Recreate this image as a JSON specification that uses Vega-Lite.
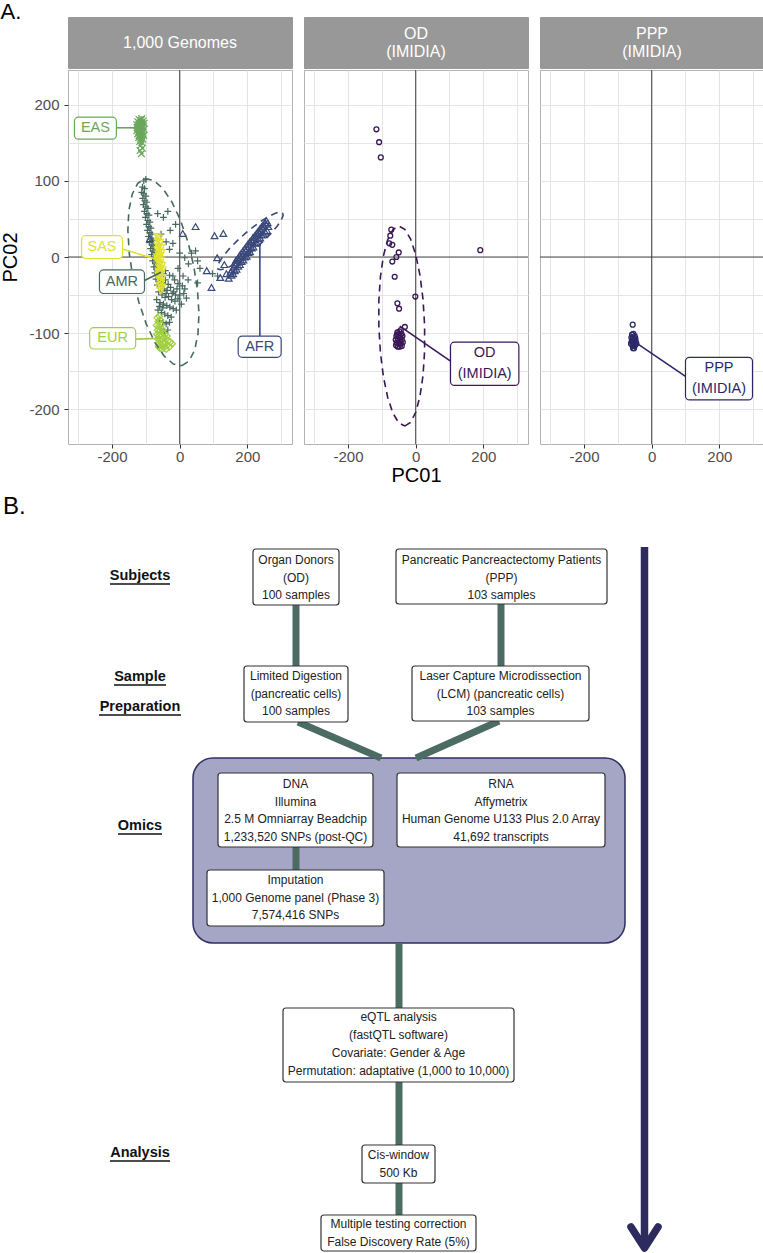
{
"$schema": "https://vega.github.io/schema/vega-lite/v6.json",
"background": "white",
"padding": {"left": 0, "top": 0, "right": 0, "bottom": 0},
"title": {"text": "A.", "anchor": "start", "frame": "bounds", "fontSize": 22, "fontWeight": "normal", "font": "Liberation Sans", "color": "#000000", "offset": -7},
"config": {
  "font": "Liberation Sans",
  "view": {"stroke": "#B3B3B3"},
  "axis": {"gridColor": "#E4E4E4", "gridWidth": 1, "domain": false, "tickColor": "#333333", "tickSize": 4, "tickWidth": 1, "labelColor": "#4D4D4D", "labelFontSize": 15, "labelFont": "Liberation Sans", "titleFont": "Liberation Sans", "titleFontSize": 20, "titleFontWeight": "normal", "titleColor": "#000000", "labelOverlap": false, "labelFlush": false}
},
"datasets": {
  "strips": [{"panel": "1000G", "label": "1,000 Genomes"}, {"panel": "OD", "label": "OD\n(IMIDIA)"}, {"panel": "PPP", "label": "PPP\n(IMIDIA)"}],
  "zero": [{"x": 0, "x2": 0, "y": -246, "y2": 246}, {"x": -330, "x2": 332, "y": 0, "y2": 0}],
  "points": [
    {"pop":"EAS","x":-120,"y":181},{"pop":"EAS","x":-114,"y":180},{"pop":"EAS","x":-108,"y":179},{"pop":"EAS","x":-124,"y":178},{"pop":"EAS","x":-117,"y":177},{"pop":"EAS","x":-111,"y":176},{"pop":"EAS","x":-105,"y":176},{"pop":"EAS","x":-127,"y":174},{"pop":"EAS","x":-121,"y":174},{"pop":"EAS","x":-114,"y":173},{"pop":"EAS","x":-108,"y":172},{"pop":"EAS","x":-124,"y":170},{"pop":"EAS","x":-118,"y":169},{"pop":"EAS","x":-111,"y":169},{"pop":"EAS","x":-105,"y":168},{"pop":"EAS","x":-127,"y":166},{"pop":"EAS","x":-121,"y":165},{"pop":"EAS","x":-115,"y":165},{"pop":"EAS","x":-109,"y":164},{"pop":"EAS","x":-124,"y":162},{"pop":"EAS","x":-118,"y":161},{"pop":"EAS","x":-112,"y":160},{"pop":"EAS","x":-106,"y":160},{"pop":"EAS","x":-121,"y":157},{"pop":"EAS","x":-115,"y":156},{"pop":"EAS","x":-109,"y":155},{"pop":"EAS","x":-118,"y":152},{"pop":"EAS","x":-112,"y":151},{"pop":"EAS","x":-115,"y":147},{"pop":"EAS","x":-110,"y":143},{"pop":"EAS","x":-117,"y":140},{"pop":"EAS","x":-113,"y":136},{"pop":"EAS","x":-120,"y":160},{"pop":"EAS","x":-112,"y":182},{"pop":"EAS","x":-126,"y":170},
    {"pop":"AMR","x":-106,"y":100},{"pop":"AMR","x":-110,"y":92},{"pop":"AMR","x":-104,"y":90},{"pop":"AMR","x":-112,"y":85},{"pop":"AMR","x":-106,"y":83},{"pop":"AMR","x":-100,"y":80},{"pop":"AMR","x":-109,"y":77},{"pop":"AMR","x":-103,"y":74},{"pop":"AMR","x":-97,"y":72},{"pop":"AMR","x":-107,"y":69},{"pop":"AMR","x":-100,"y":66},{"pop":"AMR","x":-94,"y":64},{"pop":"AMR","x":-104,"y":60},{"pop":"AMR","x":-97,"y":57},{"pop":"AMR","x":-91,"y":55},{"pop":"AMR","x":-101,"y":52},{"pop":"AMR","x":-94,"y":48},{"pop":"AMR","x":-88,"y":46},{"pop":"AMR","x":-98,"y":43},{"pop":"AMR","x":-91,"y":40},{"pop":"AMR","x":-85,"y":38},{"pop":"AMR","x":-95,"y":35},{"pop":"AMR","x":-88,"y":32},{"pop":"AMR","x":-82,"y":30},{"pop":"AMR","x":-92,"y":27},{"pop":"AMR","x":-85,"y":24},{"pop":"AMR","x":-79,"y":22},{"pop":"AMR","x":-89,"y":19},{"pop":"AMR","x":-82,"y":16},{"pop":"AMR","x":-76,"y":14},{"pop":"AMR","x":-86,"y":11},{"pop":"AMR","x":-79,"y":8},{"pop":"AMR","x":-73,"y":6},{"pop":"AMR","x":-83,"y":3},{"pop":"AMR","x":-76,"y":0},{"pop":"AMR","x":-70,"y":-2},{"pop":"AMR","x":-80,"y":-5},{"pop":"AMR","x":-72,"y":-8},{"pop":"AMR","x":-66,"y":-10},{"pop":"AMR","x":-76,"y":-13},{"pop":"AMR","x":-68,"y":-16},{"pop":"AMR","x":-61,"y":-18},{"pop":"AMR","x":-73,"y":-21},{"pop":"AMR","x":-64,"y":-24},{"pop":"AMR","x":-56,"y":-26},{"pop":"AMR","x":-48,"y":-22},{"pop":"AMR","x":-70,"y":-29},{"pop":"AMR","x":-60,"y":-32},{"pop":"AMR","x":-51,"y":-34},{"pop":"AMR","x":-42,"y":-30},{"pop":"AMR","x":-34,"y":-36},{"pop":"AMR","x":-66,"y":-37},{"pop":"AMR","x":-56,"y":-40},{"pop":"AMR","x":-46,"y":-42},{"pop":"AMR","x":-37,"y":-44},{"pop":"AMR","x":-27,"y":-40},{"pop":"AMR","x":-18,"y":-46},{"pop":"AMR","x":-8,"y":-42},{"pop":"AMR","x":0,"y":-50},{"pop":"AMR","x":12,"y":-48},{"pop":"AMR","x":20,"y":-54},{"pop":"AMR","x":-62,"y":-46},{"pop":"AMR","x":-52,"y":-50},{"pop":"AMR","x":-43,"y":-53},{"pop":"AMR","x":-33,"y":-52},{"pop":"AMR","x":-24,"y":-56},{"pop":"AMR","x":-14,"y":-58},{"pop":"AMR","x":-5,"y":-55},{"pop":"AMR","x":5,"y":-62},{"pop":"AMR","x":-68,"y":-56},{"pop":"AMR","x":-58,"y":-60},{"pop":"AMR","x":-48,"y":-62},{"pop":"AMR","x":-38,"y":-64},{"pop":"AMR","x":-29,"y":-66},{"pop":"AMR","x":-19,"y":-68},{"pop":"AMR","x":-10,"y":-70},{"pop":"AMR","x":-64,"y":-70},{"pop":"AMR","x":-54,"y":-73},{"pop":"AMR","x":-44,"y":-75},{"pop":"AMR","x":-35,"y":-77},{"pop":"AMR","x":-25,"y":-79},{"pop":"AMR","x":-60,"y":-84},{"pop":"AMR","x":-50,"y":-86},{"pop":"AMR","x":-40,"y":-88},{"pop":"AMR","x":-30,"y":-86},{"pop":"AMR","x":-55,"y":-95},{"pop":"AMR","x":-45,"y":-98},{"pop":"AMR","x":-35,"y":-96},
    {"pop":"AMR","x":-65,"y":57},{"pop":"AMR","x":-35,"y":60},{"pop":"AMR","x":-48,"y":52},{"pop":"AMR","x":-12,"y":43},{"pop":"AMR","x":-28,"y":35},{"pop":"AMR","x":-55,"y":30},{"pop":"AMR","x":-40,"y":20},{"pop":"AMR","x":-20,"y":18},{"pop":"AMR","x":47,"y":8},{"pop":"AMR","x":53,"y":-5},{"pop":"AMR","x":53,"y":-34},{"pop":"AMR","x":15,"y":-1},{"pop":"AMR","x":26,"y":-9},{"pop":"AMR","x":35,"y":5},{"pop":"AMR","x":-5,"y":-15},{"pop":"AMR","x":10,"y":-25},{"pop":"AMR","x":-20,"y":-25},{"pop":"AMR","x":25,"y":-30},{"pop":"AMR","x":97,"y":-22},{"pop":"AMR","x":112,"y":-25},{"pop":"AMR","x":-30,"y":10},{"pop":"AMR","x":0,"y":5},{"pop":"AMR","x":60,"y":-15},{"pop":"AMR","x":-42,"y":-18},{"pop":"AMR","x":-100,"y":102},{"pop":"AMR","x":-30,"y":-24},{"pop":"AMR","x":-15,"y":-30},{"pop":"AMR","x":-5,"y":-35},{"pop":"AMR","x":8,"y":-38},{"pop":"AMR","x":15,"y":-42},{"pop":"AMR","x":-22,"y":-48},{"pop":"AMR","x":-40,"y":-48},{"pop":"AMR","x":-12,"y":-50},{"pop":"AMR","x":-60,"y":-65},{"pop":"AMR","x":-50,"y":-67},
    {"pop":"SAS","x":-66,"y":27},{"pop":"SAS","x":-60,"y":25},{"pop":"SAS","x":-64,"y":21},{"pop":"SAS","x":-58,"y":19},{"pop":"SAS","x":-68,"y":17},{"pop":"SAS","x":-61,"y":14},{"pop":"SAS","x":-55,"y":12},{"pop":"SAS","x":-65,"y":10},{"pop":"SAS","x":-59,"y":8},{"pop":"SAS","x":-53,"y":6},{"pop":"SAS","x":-63,"y":4},{"pop":"SAS","x":-57,"y":2},{"pop":"SAS","x":-67,"y":0},{"pop":"SAS","x":-61,"y":-2},{"pop":"SAS","x":-55,"y":-4},{"pop":"SAS","x":-64,"y":-7},{"pop":"SAS","x":-58,"y":-9},{"pop":"SAS","x":-52,"y":-11},{"pop":"SAS","x":-62,"y":-13},{"pop":"SAS","x":-56,"y":-15},{"pop":"SAS","x":-50,"y":-17},{"pop":"SAS","x":-60,"y":-19},{"pop":"SAS","x":-54,"y":-21},{"pop":"SAS","x":-63,"y":-24},{"pop":"SAS","x":-57,"y":-26},{"pop":"SAS","x":-51,"y":-28},{"pop":"SAS","x":-60,"y":-30},{"pop":"SAS","x":-54,"y":-33},{"pop":"SAS","x":-58,"y":-37},{"pop":"SAS","x":-52,"y":-40},{"pop":"SAS","x":-56,"y":-44},{"pop":"SAS","x":-60,"y":-41},{"pop":"SAS","x":-62,"y":-20},{"pop":"SAS","x":-66,"y":-3},
    {"pop":"EUR","x":-66,"y":-80},{"pop":"EUR","x":-60,"y":-78},{"pop":"EUR","x":-63,"y":-85},{"pop":"EUR","x":-57,"y":-83},{"pop":"EUR","x":-68,"y":-90},{"pop":"EUR","x":-61,"y":-91},{"pop":"EUR","x":-55,"y":-89},{"pop":"EUR","x":-65,"y":-96},{"pop":"EUR","x":-58,"y":-97},{"pop":"EUR","x":-52,"y":-95},{"pop":"EUR","x":-67,"y":-102},{"pop":"EUR","x":-61,"y":-103},{"pop":"EUR","x":-55,"y":-102},{"pop":"EUR","x":-49,"y":-100},{"pop":"EUR","x":-64,"y":-108},{"pop":"EUR","x":-58,"y":-109},{"pop":"EUR","x":-52,"y":-108},{"pop":"EUR","x":-46,"y":-106},{"pop":"EUR","x":-40,"y":-108},{"pop":"EUR","x":-34,"y":-110},{"pop":"EUR","x":-28,"y":-112},{"pop":"EUR","x":-22,"y":-114},{"pop":"EUR","x":-61,"y":-114},{"pop":"EUR","x":-55,"y":-115},{"pop":"EUR","x":-49,"y":-114},{"pop":"EUR","x":-43,"y":-113},{"pop":"EUR","x":-37,"y":-116},{"pop":"EUR","x":-30,"y":-118},{"pop":"EUR","x":-58,"y":-120},{"pop":"EUR","x":-52,"y":-121},{"pop":"EUR","x":-46,"y":-119},{"pop":"EUR","x":-40,"y":-121},{"pop":"EUR","x":-62,"y":-118},{"pop":"EUR","x":-44,"y":-102},{"pop":"EUR","x":-38,"y":-104},
    {"pop":"AFR","x":9,"y":31},{"pop":"AFR","x":47,"y":40},{"pop":"AFR","x":103,"y":28},{"pop":"AFR","x":129,"y":31},{"pop":"AFR","x":111,"y":-1},{"pop":"AFR","x":94,"y":-40},{"pop":"AFR","x":120,"y":-27},{"pop":"AFR","x":138,"y":-22},{"pop":"AFR","x":-88,"y":24},{"pop":"AFR","x":132,"y":-10},{"pop":"AFR","x":145,"y":-28},{"pop":"AFR","x":80,"y":-18},
    {"pop":"AFR","x":150,"y":-20},{"pop":"AFR","x":155,"y":-17},{"pop":"AFR","x":160,"y":-13},{"pop":"AFR","x":165,"y":-10},{"pop":"AFR","x":170,"y":-7},{"pop":"AFR","x":175,"y":-4},{"pop":"AFR","x":180,"y":-1},{"pop":"AFR","x":185,"y":2},{"pop":"AFR","x":190,"y":5},{"pop":"AFR","x":195,"y":8},{"pop":"AFR","x":200,"y":11},{"pop":"AFR","x":205,"y":14},{"pop":"AFR","x":210,"y":17},{"pop":"AFR","x":215,"y":20},{"pop":"AFR","x":220,"y":23},{"pop":"AFR","x":225,"y":26},{"pop":"AFR","x":230,"y":29},{"pop":"AFR","x":235,"y":32},{"pop":"AFR","x":240,"y":35},{"pop":"AFR","x":245,"y":38},{"pop":"AFR","x":250,"y":40},{"pop":"AFR","x":255,"y":43},{"pop":"AFR","x":260,"y":45},
    {"pop":"AFR","x":158,"y":-22},{"pop":"AFR","x":168,"y":-16},{"pop":"AFR","x":178,"y":-10},{"pop":"AFR","x":188,"y":-4},{"pop":"AFR","x":198,"y":1},{"pop":"AFR","x":208,"y":7},{"pop":"AFR","x":218,"y":13},{"pop":"AFR","x":228,"y":19},{"pop":"AFR","x":238,"y":25},{"pop":"AFR","x":248,"y":30},{"pop":"AFR","x":258,"y":35},
    {"pop":"AFR","x":162,"y":-8},{"pop":"AFR","x":172,"y":-2},{"pop":"AFR","x":182,"y":5},{"pop":"AFR","x":192,"y":11},{"pop":"AFR","x":202,"y":17},{"pop":"AFR","x":212,"y":22},{"pop":"AFR","x":222,"y":28},{"pop":"AFR","x":232,"y":34},{"pop":"AFR","x":242,"y":40},{"pop":"AFR","x":252,"y":45},{"pop":"AFR","x":262,"y":40},{"pop":"AFR","x":256,"y":48},
    {"pop":"AFR","x":153,"y":-24},{"pop":"AFR","x":163,"y":-18},{"pop":"AFR","x":173,"y":-12},{"pop":"AFR","x":183,"y":-6},{"pop":"AFR","x":193,"y":0},{"pop":"AFR","x":203,"y":6},{"pop":"AFR","x":213,"y":12},{"pop":"AFR","x":223,"y":18},{"pop":"AFR","x":233,"y":24},{"pop":"AFR","x":243,"y":29},{"pop":"AFR","x":253,"y":33},{"pop":"AFR","x":167,"y":-4},{"pop":"AFR","x":177,"y":2},{"pop":"AFR","x":187,"y":8},{"pop":"AFR","x":197,"y":14},{"pop":"AFR","x":207,"y":20},{"pop":"AFR","x":217,"y":26},{"pop":"AFR","x":227,"y":31},{"pop":"AFR","x":237,"y":37},{"pop":"AFR","x":247,"y":42},
    {"pop":"OD","x":-116,"y":168},{"pop":"OD","x":-108,"y":151},{"pop":"OD","x":-103,"y":131},{"pop":"OD","x":-72,"y":36},{"pop":"OD","x":-78,"y":18},{"pop":"OD","x":-69,"y":16},{"pop":"OD","x":-50,"y":6},{"pop":"OD","x":-57,"y":0},{"pop":"OD","x":-69,"y":-6},{"pop":"OD","x":-62,"y":-26},{"pop":"OD","x":191,"y":9},{"pop":"OD","x":-1,"y":-52},{"pop":"OD","x":-54,"y":-61},{"pop":"OD","x":-49,"y":-68},{"pop":"OD","x":-32,"y":-92},{"pop":"OD","x":-75,"y":28},
    {"pop":"OD","x":-54,"y":-99},{"pop":"OD","x":-48,"y":-98},{"pop":"OD","x":-42,"y":-101},{"pop":"OD","x":-57,"y":-104},{"pop":"OD","x":-51,"y":-104},{"pop":"OD","x":-45,"y":-105},{"pop":"OD","x":-39,"y":-104},{"pop":"OD","x":-59,"y":-109},{"pop":"OD","x":-53,"y":-109},{"pop":"OD","x":-47,"y":-110},{"pop":"OD","x":-41,"y":-109},{"pop":"OD","x":-56,"y":-113},{"pop":"OD","x":-50,"y":-114},{"pop":"OD","x":-44,"y":-114},{"pop":"OD","x":-38,"y":-112},{"pop":"OD","x":-53,"y":-118},{"pop":"OD","x":-47,"y":-118},{"pop":"OD","x":-41,"y":-117},{"pop":"OD","x":-58,"y":-116},{"pop":"OD","x":-49,"y":-106},{"pop":"OD","x":-55,"y":-102},{"pop":"OD","x":-44,"y":-96},
    {"pop":"PPP","x":-56,"y":-89},{"pop":"PPP","x":-58,"y":-102},{"pop":"PPP","x":-54,"y":-101},{"pop":"PPP","x":-50,"y":-104},{"pop":"PPP","x":-60,"y":-106},{"pop":"PPP","x":-56,"y":-107},{"pop":"PPP","x":-52,"y":-108},{"pop":"PPP","x":-48,"y":-107},{"pop":"PPP","x":-59,"y":-111},{"pop":"PPP","x":-55,"y":-112},{"pop":"PPP","x":-51,"y":-112},{"pop":"PPP","x":-47,"y":-111},{"pop":"PPP","x":-57,"y":-116},{"pop":"PPP","x":-53,"y":-117},{"pop":"PPP","x":-49,"y":-116},{"pop":"PPP","x":-55,"y":-120},{"pop":"PPP","x":-61,"y":-114},{"pop":"PPP","x":-45,"y":-114},{"pop":"PPP","x":-52,"y":-120}
  ],
  "ellipses": [
    {"pop":"AMR","i":0,"x":6.6,"y":-143.0},{"pop":"AMR","i":1,"x":28.0,"y":-136.8},{"pop":"AMR","i":2,"x":44.2,"y":-122.6},{"pop":"AMR","i":3,"x":54.1,"y":-101.4},{"pop":"AMR","i":4,"x":57.1,"y":-74.7},{"pop":"AMR","i":5,"x":52.8,"y":-44.3},{"pop":"AMR","i":6,"x":41.8,"y":-12.1},{"pop":"AMR","i":7,"x":24.6,"y":19.5},{"pop":"AMR","i":8,"x":2.5,"y":48.3},{"pop":"AMR","i":9,"x":-23.1,"y":72.6},{"pop":"AMR","i":10,"x":-50.4,"y":90.5},{"pop":"AMR","i":11,"x":-77.4,"y":100.8},{"pop":"AMR","i":12,"x":-102.6,"y":103.0},{"pop":"AMR","i":13,"x":-124.0,"y":96.8},{"pop":"AMR","i":14,"x":-140.2,"y":82.6},{"pop":"AMR","i":15,"x":-150.1,"y":61.4},{"pop":"AMR","i":16,"x":-153.1,"y":34.7},{"pop":"AMR","i":17,"x":-148.8,"y":4.3},{"pop":"AMR","i":18,"x":-137.8,"y":-27.9},{"pop":"AMR","i":19,"x":-120.6,"y":-59.5},{"pop":"AMR","i":20,"x":-98.5,"y":-88.3},{"pop":"AMR","i":21,"x":-72.9,"y":-112.6},{"pop":"AMR","i":22,"x":-45.6,"y":-130.5},{"pop":"AMR","i":23,"x":-18.6,"y":-140.8},{"pop":"AMR","i":24,"x":6.6,"y":-143.0},
    {"pop":"AFR","i":0,"x":304.4,"y":58.0},{"pop":"AFR","i":1,"x":305.7,"y":54.4},{"pop":"AFR","i":2,"x":300.2,"y":48.6},{"pop":"AFR","i":3,"x":288.6,"y":40.8},{"pop":"AFR","i":4,"x":271.6,"y":31.8},{"pop":"AFR","i":5,"x":250.3,"y":22.0},{"pop":"AFR","i":6,"x":226.1,"y":12.1},{"pop":"AFR","i":7,"x":200.7,"y":2.8},{"pop":"AFR","i":8,"x":176.0,"y":-5.2},{"pop":"AFR","i":9,"x":153.4,"y":-11.4},{"pop":"AFR","i":10,"x":134.7,"y":-15.4},{"pop":"AFR","i":11,"x":120.9,"y":-16.8},{"pop":"AFR","i":12,"x":113.2,"y":-15.8},{"pop":"AFR","i":13,"x":111.9,"y":-12.2},{"pop":"AFR","i":14,"x":117.4,"y":-6.4},{"pop":"AFR","i":15,"x":129.0,"y":1.4},{"pop":"AFR","i":16,"x":146.0,"y":10.4},{"pop":"AFR","i":17,"x":167.3,"y":20.2},{"pop":"AFR","i":18,"x":191.5,"y":30.1},{"pop":"AFR","i":19,"x":216.9,"y":39.4},{"pop":"AFR","i":20,"x":241.6,"y":47.4},{"pop":"AFR","i":21,"x":264.2,"y":53.6},{"pop":"AFR","i":22,"x":282.9,"y":57.6},{"pop":"AFR","i":23,"x":292.5,"y":59.0},{"pop":"AFR","i":24,"x":304.4,"y":58.0},
    {"pop":"OD","i":0,"x":-32.4,"y":-222.4},{"pop":"OD","i":1,"x":-15.2,"y":-217.7},{"pop":"OD","i":2,"x":0.2,"y":-204.3},{"pop":"OD","i":3,"x":12.8,"y":-183.2},{"pop":"OD","i":4,"x":21.7,"y":-155.8},{"pop":"OD","i":5,"x":26.4,"y":-124.0},{"pop":"OD","i":6,"x":26.4,"y":-89.9},{"pop":"OD","i":7,"x":21.8,"y":-55.8},{"pop":"OD","i":8,"x":12.9,"y":-24.2},{"pop":"OD","i":9,"x":0.4,"y":2.8},{"pop":"OD","i":10,"x":-15.0,"y":23.7},{"pop":"OD","i":11,"x":-32.2,"y":36.5},{"pop":"OD","i":12,"x":-50.0,"y":40.8},{"pop":"OD","i":13,"x":-67.2,"y":36.1},{"pop":"OD","i":14,"x":-82.6,"y":22.8},{"pop":"OD","i":15,"x":-95.2,"y":1.6},{"pop":"OD","i":16,"x":-104.1,"y":-25.8},{"pop":"OD","i":17,"x":-108.8,"y":-57.6},{"pop":"OD","i":18,"x":-108.8,"y":-91.7},{"pop":"OD","i":19,"x":-104.2,"y":-125.8},{"pop":"OD","i":20,"x":-95.3,"y":-157.4},{"pop":"OD","i":21,"x":-82.8,"y":-184.4},{"pop":"OD","i":22,"x":-67.4,"y":-205.3},{"pop":"OD","i":23,"x":-50.2,"y":-218.1},{"pop":"OD","i":24,"x":-32.4,"y":-222.4}
  ],
  "segs": [
    {"pop":"EAS","x":-187,"y":170,"x2":-118,"y2":170},
    {"pop":"SAS","x":-169,"y":10.5,"x2":-62,"y2":-4},
    {"pop":"AMR","x":-104,"y":-31,"x2":-55,"y2":-20},
    {"pop":"EUR","x":-130,"y":-108,"x2":-62,"y2":-107},
    {"pop":"AFR","x":237,"y":-104,"x2":237,"y2":17},
    {"pop":"OD","x":103,"y":-137,"x2":-47,"y2":-91},
    {"pop":"PPP","x":100,"y":-157,"x2":-49,"y2":-112}
  ],
  "boxes": [
    {"pop":"EAS","x":-311,"x2":-187,"y":155,"y2":184},
    {"pop":"SAS","x":-290,"x2":-169,"y":-2,"y2":28},
    {"pop":"AMR","x":-237,"x2":-104,"y":-48,"y2":-17},
    {"pop":"EUR","x":-266,"x2":-130,"y":-121,"y2":-93},
    {"pop":"AFR","x":173,"x2":300,"y":-132,"y2":-104},
    {"pop":"OD","x":103,"x2":305,"y":-169,"y2":-112},
    {"pop":"PPP","x":100,"x2":298,"y":-188,"y2":-132}
  ],
  "labtext": [
    {"pop":"EAS","x":-249,"y":169.5,"label":"EAS"},
    {"pop":"SAS","x":-229.5,"y":13,"label":"SAS"},
    {"pop":"AMR","x":-170.5,"y":-32.6,"label":"AMR"},
    {"pop":"EUR","x":-198,"y":-107,"label":"EUR"},
    {"pop":"AFR","x":236.5,"y":-118,"label":"AFR"},
    {"pop":"OD","x":204,"y":-140,"label":"OD\n(IMIDIA)"},
    {"pop":"PPP","x":199,"y":-160,"label":"PPP\n(IMIDIA)"}
  ],
  "bigbox": [{"x":193,"x2":625,"y":758,"y2":943}],
  "conn": [
    {"x":296,"y":600,"x2":296,"y2":670},
    {"x":501,"y":600,"x2":501,"y2":670},
    {"x":298,"y":722,"x2":381,"y2":758},
    {"x":499,"y":721,"x2":416,"y2":758},
    {"x":296,"y":845,"x2":296,"y2":872},
    {"x":399,"y":943,"x2":399,"y2":1010},
    {"x":399,"y":1080,"x2":399,"y2":1147},
    {"x":399,"y":1181,"x2":399,"y2":1217}
  ],
  "fbox": [
    {"x":253,"x2":339,"y":549,"y2":605},
    {"x":396,"x2":607,"y":549,"y2":604},
    {"x":244,"x2":348,"y":666,"y2":722},
    {"x":412,"x2":589,"y":666,"y2":721},
    {"x":218,"x2":373,"y":773,"y2":847},
    {"x":397,"x2":605,"y":773,"y2":847},
    {"x":207,"x2":384,"y":870,"y2":926},
    {"x":283,"x2":514,"y":1008,"y2":1082},
    {"x":362,"x2":435,"y":1145,"y2":1183},
    {"x":321,"x2":476,"y":1215,"y2":1251}
  ],
  "ftext": [
    {"x":296,"y":560,"label":"Organ Donors"},{"x":296,"y":578,"label":"(OD)"},{"x":296,"y":595,"label":"100 samples"},
    {"x":501.5,"y":560,"label":"Pancreatic Pancreactectomy Patients"},{"x":501.5,"y":578,"label":"(PPP)"},{"x":501.5,"y":595,"label":"103 samples"},
    {"x":296,"y":676,"label":"Limited Digestion"},{"x":296,"y":694,"label":"(pancreatic cells)"},{"x":296,"y":711,"label":"100 samples"},
    {"x":500.5,"y":676,"label":"Laser Capture Microdissection"},{"x":500.5,"y":694,"label":"(LCM) (pancreatic cells)"},{"x":500.5,"y":711,"label":"103 samples"},
    {"x":295.5,"y":784,"label":"DNA"},{"x":295.5,"y":802,"label":"Illumina"},{"x":295.5,"y":819,"label":"2.5 M Omniarray Beadchip"},{"x":295.5,"y":837,"label":"1,233,520 SNPs (post-QC)"},
    {"x":501,"y":784,"label":"RNA"},{"x":501,"y":802,"label":"Affymetrix"},{"x":501,"y":819,"label":"Human Genome U133 Plus 2.0 Array"},{"x":501,"y":837,"label":"41,692 transcripts"},
    {"x":295.5,"y":880,"label":"Imputation"},{"x":295.5,"y":898,"label":"1,000 Genome panel (Phase 3)"},{"x":295.5,"y":915,"label":"7,574,416 SNPs"},
    {"x":398.5,"y":1017,"label":"eQTL analysis"},{"x":398.5,"y":1035,"label":"(fastQTL software)"},{"x":398.5,"y":1053,"label":"Covariate: Gender & Age"},{"x":398.5,"y":1071,"label":"Permutation: adaptative (1,000 to 10,000)"},
    {"x":398.5,"y":1155,"label":"Cis-window"},{"x":398.5,"y":1173,"label":"500 Kb"},
    {"x":398.5,"y":1224,"label":"Multiple testing correction"},{"x":398.5,"y":1242,"label":"False Discovery Rate (5%)"}
  ],
  "sect": [
    {"x":140,"y":576,"label":"Subjects"},{"x":140,"y":677,"label":"Sample"},{"x":140,"y":707,"label":"Preparation"},{"x":140,"y":826,"label":"Omics"},{"x":140,"y":1153,"label":"Analysis"}
  ],
  "uline": [
    {"x":110,"x2":170,"y":584,"y2":584},{"x":114,"x2":166,"y":685,"y2":685},{"x":99,"x2":181,"y":715,"y2":715},{"x":118,"x2":162,"y":834,"y2":834},{"x":110,"x2":170,"y":1161,"y2":1161}
  ],
  "arrow": [{"x":644.5,"y":547,"x2":644.5,"y2":1245}],
  "arrowhead": [{"i":0,"x":631,"y":1227},{"i":1,"x":644.5,"y":1248},{"i":2,"x":658,"y":1227}],
  "blabel": [{"x":3,"y":514,"label":"B."}]
},
"spacing": 0,
"vconcat": [
  {
    "spacing": 10,
    "hconcat": [
      {
        "spacing": 0,
        "vconcat": [
          {"width": 224, "height": 51, "view": {"fill": "#989898", "stroke": "#989898"}, "data": {"name": "strips"}, "transform": [{"filter": "datum.panel === '1000G'"}], "mark": {"type": "text", "color": "white", "fontSize": 16, "lineBreak": "\n", "lineHeight": 18, "baseline": "middle", "align": "center"}, "encoding": {"text": {"field": "label"}}},
          {
            "width": 224, "height": 374,
            "encoding": {
              "x": {"field": "x", "type": "quantitative", "scale": {"domain": [-330, 332], "nice": false, "zero": false}, "axis": {"values": [-300,-200,-100,0,100,200,300], "labelExpr": "datum.value % 200 === 0 ? '' + datum.value : ''", "tickOpacity": {"condition": {"test": "datum.value % 200 === 0", "value": 1}, "value": 0}, "labelPadding": 1, "title": null}},
              "y": {"field": "y", "type": "quantitative", "scale": {"domain": [-246, 246], "nice": false, "zero": false}, "axis": {"values": [-200,-150,-100,-50,0,50,100,150,200], "labelExpr": "datum.value % 100 === 0 ? '' + datum.value : ''", "tickOpacity": {"condition": {"test": "datum.value % 100 === 0", "value": 1}, "value": 0}, "labelPadding": 5, "title": "PC02", "titlePadding": 8}}
            },
            "layer": [
              {"data": {"name": "zero"}, "mark": {"type": "rule", "color": "#333333", "strokeWidth": 0.9}, "encoding": {"x2": {"field": "x2"}, "y2": {"field": "y2"}}},
              {"data": {"name": "points"}, "transform": [{"filter": {"field": "pop", "oneOf": ["AFR","AMR","EAS","EUR","SAS"]}}], "mark": {"type": "point", "filled": false, "opacity": 1, "strokeWidth": 1.2, "size": 45},
               "encoding": {"color": {"field": "pop", "type": "nominal", "scale": {"domain": ["AFR","AMR","EAS","EUR","SAS","OD","PPP"], "range": ["#3A497A","#46695F","#6AA75B","#A1CF3F","#E0E22C","#3A1858","#2C2868"]}, "legend": null},
                            "shape": {"field": "pop", "type": "nominal", "scale": {"domain": ["AFR","AMR","EAS","EUR","SAS","OD","PPP"], "range": ["triangle-up","M-1,0L1,0M0,-1L0,1","M-1,-1L1,1M-1,1L1,-1","diamond","triangle-down","circle","circle"]}, "legend": null}}},
              {"data": {"name": "ellipses"}, "transform": [{"filter": {"field": "pop", "oneOf": ["AFR","AMR"]}}], "mark": {"type": "line", "strokeDash": [7, 5], "strokeWidth": 1.6},
               "encoding": {"color": {"field": "pop", "type": "nominal", "scale": {"domain": ["AFR","AMR","EAS","EUR","SAS","OD","PPP"], "range": ["#3A497A","#46695F","#6AA75B","#A1CF3F","#E0E22C","#3A1858","#2C2868"]}, "legend": null}, "detail": {"field": "pop"}, "order": {"field": "i", "type": "quantitative"}}},
              {"data": {"name": "segs"}, "transform": [{"filter": {"field": "pop", "oneOf": ["AFR","AMR","EAS","EUR","SAS"]}}], "mark": {"type": "rule", "strokeWidth": 1.6},
               "encoding": {"x2": {"field": "x2"}, "y2": {"field": "y2"}, "color": {"field": "pop", "type": "nominal", "scale": {"domain": ["AFR","AMR","EAS","EUR","SAS","OD","PPP"], "range": ["#3A497A","#46695F","#6AA75B","#A1CF3F","#E0E22C","#3A1858","#2C2868"]}, "legend": null}}},
              {"data": {"name": "boxes"}, "transform": [{"filter": {"field": "pop", "oneOf": ["AFR","AMR","EAS","EUR","SAS"]}}], "mark": {"type": "rect", "fill": "white", "cornerRadius": 4, "strokeWidth": 1.2},
               "encoding": {"x2": {"field": "x2"}, "y2": {"field": "y2"}, "stroke": {"field": "pop", "type": "nominal", "scale": {"domain": ["AFR","AMR","EAS","EUR","SAS","OD","PPP"], "range": ["#3A497A","#46695F","#6AA75B","#A1CF3F","#E0E22C","#3A1858","#2C2868"]}, "legend": null}}},
              {"data": {"name": "labtext"}, "transform": [{"filter": {"field": "pop", "oneOf": ["AFR","AMR","EAS","EUR","SAS"]}}], "mark": {"type": "text", "fontSize": 14.5, "baseline": "middle", "align": "center"},
               "encoding": {"text": {"field": "label"}, "color": {"field": "pop", "type": "nominal", "scale": {"domain": ["AFR","AMR","EAS","EUR","SAS","OD","PPP"], "range": ["#3A497A","#46695F","#6AA75B","#A1CF3F","#E0E22C","#3A1858","#2C2868"]}, "legend": null}}}
            ]
          }
        ]
      },
      {
        "spacing": 0,
        "vconcat": [
          {"width": 224, "height": 51, "view": {"fill": "#989898", "stroke": "#989898"}, "data": {"name": "strips"}, "transform": [{"filter": "datum.panel === 'OD'"}], "mark": {"type": "text", "color": "white", "fontSize": 16, "lineBreak": "\n", "lineHeight": 18, "baseline": "middle", "align": "center", "dy": -9}, "encoding": {"text": {"field": "label"}}},
          {
            "width": 224, "height": 374,
            "encoding": {
              "x": {"field": "x", "type": "quantitative", "scale": {"domain": [-330, 332], "nice": false, "zero": false}, "axis": {"values": [-300,-200,-100,0,100,200,300], "labelExpr": "datum.value % 200 === 0 ? '' + datum.value : ''", "tickOpacity": {"condition": {"test": "datum.value % 200 === 0", "value": 1}, "value": 0}, "labelPadding": 1, "title": "PC01", "titlePadding": 1}},
              "y": {"field": "y", "type": "quantitative", "scale": {"domain": [-246, 246], "nice": false, "zero": false}, "axis": {"values": [-200,-150,-100,-50,0,50,100,150,200], "labels": false, "ticks": false, "title": null}}
            },
            "layer": [
              {"data": {"name": "zero"}, "mark": {"type": "rule", "color": "#333333", "strokeWidth": 0.9}, "encoding": {"x2": {"field": "x2"}, "y2": {"field": "y2"}}},
              {"data": {"name": "points"}, "transform": [{"filter": "datum.pop === 'OD'"}], "mark": {"type": "point", "filled": false, "opacity": 1, "strokeWidth": 1.3, "size": 24, "shape": "circle", "color": "#3A1858"}},
              {"data": {"name": "ellipses"}, "transform": [{"filter": "datum.pop === 'OD'"}], "mark": {"type": "line", "strokeDash": [7, 5], "strokeWidth": 1.6, "color": "#3A1858"}, "encoding": {"order": {"field": "i", "type": "quantitative"}}},
              {"data": {"name": "segs"}, "transform": [{"filter": "datum.pop === 'OD'"}], "mark": {"type": "rule", "strokeWidth": 1.6, "color": "#3A1858"}, "encoding": {"x2": {"field": "x2"}, "y2": {"field": "y2"}}},
              {"data": {"name": "boxes"}, "transform": [{"filter": "datum.pop === 'OD'"}], "mark": {"type": "rect", "fill": "white", "stroke": "#3A1858", "cornerRadius": 4, "strokeWidth": 1.2}, "encoding": {"x2": {"field": "x2"}, "y2": {"field": "y2"}}},
              {"data": {"name": "labtext"}, "transform": [{"filter": "datum.pop === 'OD'"}], "mark": {"type": "text", "fontSize": 14.5, "lineBreak": "\n", "lineHeight": 21, "baseline": "middle", "align": "center", "color": "#3A1858", "dy": -10.5}, "encoding": {"text": {"field": "label"}}}
            ]
          }
        ]
      },
      {
        "spacing": 0,
        "vconcat": [
          {"width": 224, "height": 51, "view": {"fill": "#989898", "stroke": "#989898"}, "data": {"name": "strips"}, "transform": [{"filter": "datum.panel === 'PPP'"}], "mark": {"type": "text", "color": "white", "fontSize": 16, "lineBreak": "\n", "lineHeight": 18, "baseline": "middle", "align": "center", "dy": -9}, "encoding": {"text": {"field": "label"}}},
          {
            "width": 224, "height": 374,
            "encoding": {
              "x": {"field": "x", "type": "quantitative", "scale": {"domain": [-330, 332], "nice": false, "zero": false}, "axis": {"values": [-300,-200,-100,0,100,200,300], "labelExpr": "datum.value % 200 === 0 ? '' + datum.value : ''", "tickOpacity": {"condition": {"test": "datum.value % 200 === 0", "value": 1}, "value": 0}, "labelPadding": 1, "title": null}},
              "y": {"field": "y", "type": "quantitative", "scale": {"domain": [-246, 246], "nice": false, "zero": false}, "axis": {"values": [-200,-150,-100,-50,0,50,100,150,200], "labels": false, "ticks": false, "title": null}}
            },
            "layer": [
              {"data": {"name": "zero"}, "mark": {"type": "rule", "color": "#333333", "strokeWidth": 0.9}, "encoding": {"x2": {"field": "x2"}, "y2": {"field": "y2"}}},
              {"data": {"name": "points"}, "transform": [{"filter": "datum.pop === 'PPP'"}], "mark": {"type": "point", "filled": false, "opacity": 1, "strokeWidth": 1.3, "size": 24, "shape": "circle", "color": "#2C2868"}},
              {"data": {"name": "segs"}, "transform": [{"filter": "datum.pop === 'PPP'"}], "mark": {"type": "rule", "strokeWidth": 1.6, "color": "#2C2868"}, "encoding": {"x2": {"field": "x2"}, "y2": {"field": "y2"}}},
              {"data": {"name": "boxes"}, "transform": [{"filter": "datum.pop === 'PPP'"}], "mark": {"type": "rect", "fill": "white", "stroke": "#2C2868", "cornerRadius": 4, "strokeWidth": 1.2}, "encoding": {"x2": {"field": "x2"}, "y2": {"field": "y2"}}},
              {"data": {"name": "labtext"}, "transform": [{"filter": "datum.pop === 'PPP'"}], "mark": {"type": "text", "fontSize": 14.5, "lineBreak": "\n", "lineHeight": 21, "baseline": "middle", "align": "center", "color": "#2C2868", "dy": -10.5}, "encoding": {"text": {"field": "label"}}}
            ]
          }
        ]
      }
    ]
  },
  {
    "width": 695, "height": 767,
    "view": {"stroke": null},
    "encoding": {
      "x": {"field": "x", "type": "quantitative", "scale": {"domain": [68, 763], "nice": false, "zero": false}, "axis": null},
      "y": {"field": "y", "type": "quantitative", "scale": {"domain": [486, 1253], "nice": false, "zero": false, "reverse": true}, "axis": null}
    },
    "layer": [
      {"data": {"name": "bigbox"}, "mark": {"type": "rect", "fill": "#A5A6C5", "stroke": "#2F2E63", "strokeWidth": 1.5, "cornerRadius": 20}, "encoding": {"x2": {"field": "x2"}, "y2": {"field": "y2"}}},
      {"data": {"name": "conn"}, "mark": {"type": "rule", "color": "#4B6B63", "strokeWidth": 7}, "encoding": {"x2": {"field": "x2"}, "y2": {"field": "y2"}}},
      {"data": {"name": "fbox"}, "mark": {"type": "rect", "fill": "white", "stroke": "#333333", "strokeWidth": 1.2, "cornerRadius": 3}, "encoding": {"x2": {"field": "x2"}, "y2": {"field": "y2"}}},
      {"data": {"name": "ftext"}, "mark": {"type": "text", "fontSize": 12, "color": "#222222", "align": "center", "baseline": "middle"}, "encoding": {"text": {"field": "label"}}},
      {"data": {"name": "sect"}, "mark": {"type": "text", "fontSize": 14.5, "fontWeight": "bold", "color": "#111111", "align": "center", "baseline": "middle"}, "encoding": {"text": {"field": "label"}}},
      {"data": {"name": "uline"}, "mark": {"type": "rule", "color": "#111111", "strokeWidth": 1.3}, "encoding": {"x2": {"field": "x2"}, "y2": {"field": "y2"}}},
      {"data": {"name": "arrow"}, "mark": {"type": "rule", "color": "#2D2B5E", "strokeWidth": 7.5}, "encoding": {"x2": {"field": "x2"}, "y2": {"field": "y2"}}},
      {"data": {"name": "arrowhead"}, "mark": {"type": "line", "color": "#2D2B5E", "strokeWidth": 7.5, "strokeCap": "round", "strokeJoin": "round"}, "encoding": {"order": {"field": "i", "type": "quantitative"}}},
      {"data": {"name": "blabel"}, "mark": {"type": "text", "fontSize": 24, "color": "#000000", "align": "left", "baseline": "alphabetic"}, "encoding": {"text": {"field": "label"}}}
    ]
  }
]
}
